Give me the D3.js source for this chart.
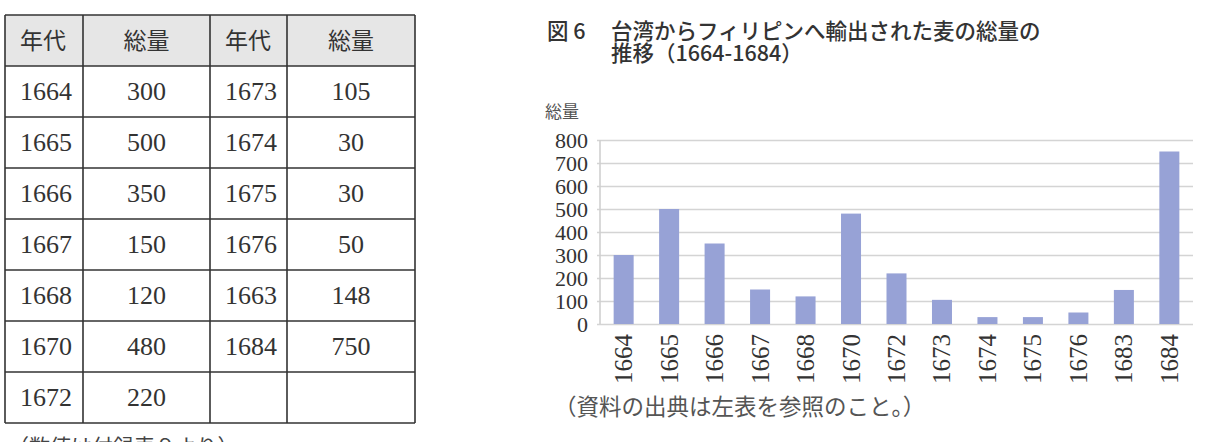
<!DOCTYPE html>
<html>
<head>
<meta charset="utf-8">
<script src="https://cdn.jsdelivr.net/npm/d3@7"></script>
<style>
  body { margin: 0; background: #fff; }
  svg { display: block; }
</style>
</head>
<body>
<div id="chart"></div>
<script>
// table data (left side)
var headers = ["年代", "総量", "年代", "総量"];
var yearsA = ["1664", "1665", "1666", "1667", "1668", "1670", "1672"];
var totalsA = [300, 500, 350, 150, 120, 480, 220];
var yearsB = ["1673", "1674", "1675", "1676", "1663", "1684"];
var totalsB = [105, 30, 30, 50, 148, 750];

// chart data (right side)
var years = ["1664", "1665", "1666", "1667", "1668", "1670", "1672", "1673", "1674", "1675", "1676", "1683", "1684"];
var totals = [300, 500, 350, 150, 120, 480, 220, 105, 30, 30, 50, 148, 750];
var yTicks = [0, 100, 200, 300, 400, 500, 600, 700, 800];

function init() {
    var W = 1206, H = 442;
    var serif = "'Liberation Serif', 'Noto Sans CJK JP', serif";
    var cjk = "'Noto Sans CJK JP', sans-serif";

    var svg = d3.select("#chart").append("svg")
        .attr("width", W)
        .attr("height", H);

    // ---------- table ----------
    var colEdges = [5, 83, 210, 287, 415];
    var rowY = d3.scaleBand()
        .domain(d3.range(8))
        .range([15, 423]);

    var table = svg.append("g");

    table.append("rect")
        .attr("x", colEdges[0]).attr("y", rowY(0))
        .attr("width", colEdges[4] - colEdges[0])
        .attr("height", rowY.bandwidth())
        .attr("fill", "#e6e6e6");

    function cellX(c) {
        // year columns are left aligned, total columns centered
        if (c % 2 == 0) return colEdges[c] + 15;
        return (colEdges[c] + colEdges[c + 1]) / 2;
    }

    var rows = [headers];
    for (var i = 0; i < yearsA.length; i++) {
        rows.push([yearsA[i], totalsA[i], yearsB[i] || "", i < totalsB.length ? totalsB[i] : ""]);
    }

    rows.forEach(function(r, ri) {
        table.selectAll(null)
            .data(r)
            .enter()
            .append("text")
            .attr("x", function(d, c) { return cellX(c); })
            .attr("y", rowY(ri) + rowY.bandwidth() / 2)
            .attr("dy", ri == 0 ? "0.36em" : "0.34em")
            .attr("text-anchor", function(d, c) { return c % 2 == 0 ? "start" : "middle"; })
            .attr("font-family", ri == 0 ? cjk : serif)
            .attr("font-size", ri == 0 ? "23px" : "26px")
            .attr("fill", "#333")
            .text(function(d) { return d; });
    });

    // grid lines of the table
    table.selectAll("line.h")
        .data(d3.range(9))
        .enter()
        .append("line")
        .attr("x1", colEdges[0]).attr("x2", colEdges[4])
        .attr("y1", function(d) { return d < 8 ? rowY(d) : 423; })
        .attr("y2", function(d) { return d < 8 ? rowY(d) : 423; })
        .attr("stroke", "#333")
        .attr("stroke-width", 1.6);

    table.selectAll("line.v")
        .data(colEdges)
        .enter()
        .append("line")
        .attr("x1", function(d) { return d; }).attr("x2", function(d) { return d; })
        .attr("y1", 15).attr("y2", 423)
        .attr("stroke", "#333")
        .attr("stroke-width", 1.6);

    svg.append("text")
        .attr("x", 8)
        .attr("y", 454)
        .attr("font-family", cjk)
        .attr("font-size", "21px")
        .attr("fill", "#444")
        .text("（数値は付録表９より）");

    // ---------- bar chart ----------
    svg.append("text")
        .attr("x", 547).attr("y", 39)
        .attr("font-family", cjk)
        .attr("font-size", "21.5px")
        .attr("font-weight", 500)
        .attr("fill", "#333")
        .text("図 6");

    var titleLines = ["台湾からフィリピンへ輸出された麦の総量の", "推移（1664-1684）"];
    svg.selectAll("text.title")
        .data(titleLines)
        .enter()
        .append("text")
        .attr("class", "title")
        .attr("x", 611)
        .attr("y", function(d, i) { return 38.5 + i * 22.5; })
        .attr("font-family", cjk)
        .attr("font-size", "21.5px")
        .attr("font-weight", 500)
        .attr("fill", "#333")
        .text(function(d) { return d; });

    svg.append("text")
        .attr("x", 545).attr("y", 118)
        .attr("font-family", cjk)
        .attr("font-size", "17px")
        .attr("fill", "#555")
        .text("総量");

    var pLeft = 600, pRight = 1193, pTop = 140, pBottom = 324;

    var x = d3.scaleBand()
        .domain(years)
        .range([pLeft, pRight])
        .paddingInner(0.56)
        .paddingOuter(0.3);

    var y = d3.scaleLinear()
        .domain([0, 800])
        .range([pBottom, pTop]);

    var yAxis = d3.axisLeft(y)
        .tickValues(yTicks)
        .tickSize(-(pRight - pLeft + 3))
        .tickPadding(9)
        .tickFormat(d3.format("d"));

    var gy = svg.append("g")
        .attr("transform", "translate(" + (pLeft - 3) + ",0)")
        .call(yAxis);
    gy.select(".domain").remove();
    gy.selectAll(".tick line")
        .attr("stroke", "#d4d4d4")
        .attr("stroke-width", 1.6);
    gy.selectAll(".tick text")
        .attr("font-family", serif)
        .attr("font-size", "22px")
        .attr("fill", "#333");

    svg.append("line")
        .attr("x1", pLeft).attr("x2", pLeft)
        .attr("y1", pTop).attr("y2", pBottom)
        .attr("stroke", "#d0d0d0")
        .attr("stroke-width", 1.6);

    svg.selectAll("rect.bar")
        .data(totals)
        .enter()
        .append("rect")
        .attr("class", "bar")
        .attr("x", function(d, i) { return x(years[i]); })
        .attr("y", function(d) { return y(d); })
        .attr("width", x.bandwidth())
        .attr("height", function(d) { return pBottom - y(d); })
        .attr("fill", "#97a2d6");

    svg.selectAll("text.xlab")
        .data(years)
        .enter()
        .append("text")
        .attr("class", "xlab")
        .attr("transform", function(d) {
            return "translate(" + (x(d) + x.bandwidth() / 2) + "," + (pBottom + 10) + ") rotate(-90)";
        })
        .attr("dy", "0.34em")
        .attr("text-anchor", "end")
        .attr("font-family", serif)
        .attr("font-size", "25px")
        .attr("fill", "#333")
        .text(function(d) { return d; });

    svg.append("text")
        .attr("x", 554).attr("y", 415)
        .attr("font-family", cjk)
        .attr("font-size", "22.5px")
        .attr("fill", "#555")
        .text("（資料の出典は左表を参照のこと。）");
}

window.onload = init;
</script>
</body>
</html>
